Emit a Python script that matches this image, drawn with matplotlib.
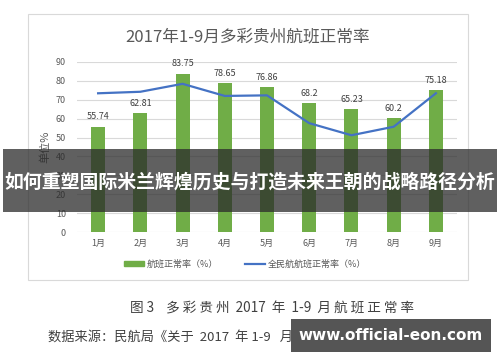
import matplotlib
matplotlib.use('Agg')
import matplotlib.pyplot as plt
from matplotlib.patches import Rectangle
from matplotlib.lines import Line2D

plt.rcParams['font.family'] = ['Noto Sans CJK SC', 'DejaVu Sans']

# data
months = ['1月', '2月', '3月', '4月', '5月', '6月', '7月', '8月', '9月']
guizhou_rate = [55.74, 62.81, 83.75, 78.65, 76.86, 68.2, 65.23, 60.2, 75.18]
national_rate = [73.4, 74.2, 78.4, 72.0, 72.3, 57.6, 51.2, 55.7, 73.4]
yticks = [0, 10, 20, 30, 40, 50, 60, 70, 80, 90]

bar_color = '#70AD47'
line_color = '#4472C4'
grey = '#595959'

fig = plt.figure(figsize=(5, 3.62), dpi=100)

# chart frame
fig.patches.append(Rectangle((28 / 500, 1 - 280 / 362), 440 / 500, 266 / 362,
                             transform=fig.transFigure, fill=False,
                             edgecolor='#d9d9d9', linewidth=0.8))

ax = fig.add_axes([0.154, 0.359, 0.76, 0.47])
x = range(len(months))
bars = ax.bar(x, guizhou_rate, width=0.33, color=bar_color, zorder=2)
ax.plot(x, national_rate, color=line_color, linewidth=1.6, zorder=3)

for i, v in enumerate(guizhou_rate):
    ax.annotate(f'{v:g}', (i, v), xytext=(0, 7), textcoords='offset points',
                ha='center', va='center', fontsize=6.5, color='#404040')

ax.set_xlim(-0.5, 8.5)
ax.set_ylim(0, 90)
ax.set_yticks(yticks)
ax.set_xticks(list(x))
ax.set_xticklabels(months)
ax.yaxis.grid(True, color='#d9d9d9', linewidth=0.8, zorder=0)
ax.set_axisbelow(True)
for s in ax.spines.values():
    s.set_visible(False)
ax.tick_params(length=0, labelsize=6.5, colors=grey)
ax.tick_params(axis='y', pad=8)
ax.tick_params(axis='x', pad=5)

fig.text(0.496, 1 - 37 / 362, '2017年1-9月多彩贵州航班正常率', ha='center', va='center',
         fontsize=12, color=grey)
fig.text(45 / 500, 1 - 147 / 362, '单位%', rotation=90, ha='center', va='center',
         fontsize=8, color=grey)

handles = [Rectangle((0, 0), 1, 1, color=bar_color),
           Line2D([0], [0], color=line_color, linewidth=1.6)]
fig.legend(handles, ['航班正常率（%）', '全民航航班正常率（%）'], loc='center',
           bbox_to_anchor=(0.49, 1 - 264 / 362), ncol=2, frameon=False,
           fontsize=6.5, labelcolor=grey, handlelength=2.2, handleheight=0.5,
           columnspacing=3, handletextpad=0.3)

# caption below chart
fig.text(0.544, 1 - 308 / 362, '图 3    多 彩 贵 州  2017  年  1-9  月 航 班 正 常 率',
         ha='center', va='center', fontsize=9.8, color='#404040')
fig.text(48 / 500, 1 - 337 / 362, '数据来源：民航局《关于  2017  年 1-9   月',
         ha='left', va='center', fontsize=9.5, color='#404040')

# overlay banner
fig.patches.append(Rectangle((3 / 500, 1 - 212 / 362), 494 / 500, 63 / 362,
                             transform=fig.transFigure, facecolor='#2b2b2b',
                             alpha=0.75, edgecolor='none', zorder=10))
fig.text(0.5, 1 - 182 / 362, '如何重塑国际米兰辉煌历史与打造未来王朝的战略路径分析',
         ha='center', va='center', fontsize=13.6, fontweight='bold',
         color='white', zorder=11)

# watermark box
fig.patches.append(Rectangle((291 / 500, 1 - 352 / 362), 200 / 500, 33 / 362,
                             transform=fig.transFigure, facecolor='#555555',
                             edgecolor='none', zorder=10))
fig.text(391 / 500, 1 - 336 / 362, 'www.official-eon.com', ha='center', va='center',
         fontsize=11, fontweight='bold', color='white', family='DejaVu Sans', zorder=11)

fig.savefig('out.png', dpi=100)
